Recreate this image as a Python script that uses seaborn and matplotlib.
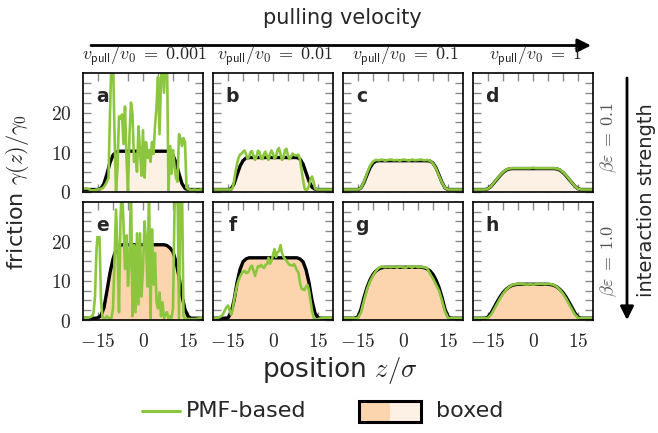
import numpy as np
import matplotlib
matplotlib.use("Agg")
import matplotlib.pyplot as plt
import seaborn as sns
from matplotlib.patches import Rectangle, FancyArrowPatch
from matplotlib.lines import Line2D
from matplotlib.ticker import FixedLocator, FuncFormatter

# ---------------- data ----------------
# sampling grids of position z/sigma
z_coarse = np.arange(-20, 20.5, 1.0)   # 41 points
z_fine = np.arange(-20, 20.25, 0.5)    # 81 points

# boxed friction profiles (black line + fill), on z_coarse
a_box = [0.5, 0.5, 0.5, 0.5, 0.5, 0.5,
         0.8, 2.0, 4.5, 7.3, 9.2, 10.0,
         10.2, 10.2, 10.2, 10.2, 10.2, 10.2, 10.2, 10.2, 10.2, 10.2, 10.2, 10.2, 10.2, 10.2, 10.2, 10.2, 10.2,
         10.0, 9.2, 7.3, 4.5, 2.0, 0.8,
         0.5, 0.5, 0.5, 0.5, 0.5, 0.5]
b_box = [0.5, 0.5, 0.5, 0.5, 0.5, 0.5,
         0.6, 1.9, 4.2, 6.4, 7.8, 8.5,
         8.6, 8.6, 8.6, 8.6, 8.6, 8.6, 8.6, 8.6, 8.6, 8.6, 8.6, 8.6, 8.6, 8.6, 8.6, 8.6, 8.6,
         8.2, 7.0, 4.8, 2.6, 1.1, 0.6,
         0.5, 0.5, 0.5, 0.5, 0.5, 0.5]
c_box = [0.5, 0.5, 0.5, 0.5, 0.5, 0.5,
         0.9, 2.3, 4.2, 6.0, 7.2, 7.7,
         7.8, 7.8, 7.8, 7.8, 7.8, 7.8, 7.8, 7.8, 7.8, 7.8, 7.8, 7.8, 7.8, 7.8, 7.8, 7.8, 7.8,
         7.7, 7.2, 6.0, 4.2, 2.3, 0.9,
         0.5, 0.5, 0.5, 0.5, 0.5, 0.5]
d_box = [0.5, 0.5, 0.5, 0.5, 0.5,
         0.7, 1.3, 2.2, 3.1, 4.0, 4.8, 5.4, 5.7,
         5.8, 5.8, 5.8, 5.8, 5.8, 5.8, 5.8, 5.8, 5.8, 5.8, 5.8, 5.8, 5.8, 5.8, 5.8,
         5.7, 5.4, 4.8, 4.0, 3.1, 2.2, 1.3, 0.7,
         0.5, 0.5, 0.5, 0.5, 0.5]
e_box = [0.5, 0.5, 0.5, 0.5, 0.5,
         0.6, 1.2, 3.2, 7.5, 12.0, 15.5, 17.9, 18.8,
         19.1, 19.1, 19.1, 19.1, 19.1, 19.1, 19.1, 19.1, 19.1, 19.1, 19.1, 19.1, 19.1, 19.1, 19.1,
         18.9, 18.3, 17.3, 14.8, 11.0, 6.2, 2.7, 1.0,
         0.5, 0.5, 0.5, 0.5, 0.5]
f_box = [0.5, 0.5, 0.5, 0.5, 0.5,
         0.6, 1.8, 5.0, 9.5, 12.8, 14.8, 15.5,
         15.8, 15.8, 15.8, 15.8, 15.8, 15.8, 15.8, 15.8, 15.8, 15.8, 15.8, 15.8, 15.8, 15.8, 15.8, 15.8, 15.8,
         15.5, 14.8, 12.8, 9.5, 5.0, 1.8, 0.6,
         0.5, 0.5, 0.5, 0.5, 0.5]
g_box = [0.5, 0.5, 0.5, 0.5, 0.5,
         0.9, 2.8, 5.8, 8.3, 10.2, 11.6, 12.5, 13.0, 13.3,
         13.4, 13.4, 13.4, 13.4, 13.4, 13.4, 13.4, 13.4, 13.4, 13.4, 13.4, 13.4, 13.4,
         13.3, 13.0, 12.5, 11.6, 10.2, 8.3, 5.8, 2.8, 0.9,
         0.5, 0.5, 0.5, 0.5, 0.5]
h_box = [0.5, 0.5, 0.5, 0.5, 0.5,
         0.8, 1.8, 3.2, 4.6, 5.9, 7.0, 7.8, 8.4, 8.8, 9.0,
         9.1, 9.1, 9.1, 9.1, 9.1, 9.1, 9.1, 9.1, 9.1, 9.1, 9.1,
         9.0, 8.8, 8.4, 7.8, 7.0, 5.9, 4.6, 3.2, 1.8, 0.8,
         0.5, 0.5, 0.5, 0.5, 0.5]

# PMF-based friction (green line); a, b, e, f on z_fine, c, d, g, h on z_coarse
a_pmf = [0.6, 0.7, 0.8, 0.7, 0.6, 0.4, 0.3, 0.3, 0.4, 0.5,
         0.5, 0.6, 0.7, 0.8, 1.2, 1.8, 2.5, 3.5, 20.0, 34.0,
         34.0, 15.0, 0.0, 6.0, 19.0, 18.5, 19.5, 12.0, 21.5, 8.5,
         0.0, 14.5, 22.5, 19.5, 7.5, 9.5, 5.0, 16.5, 10.5, 4.0,
         15.5, 3.5, 12.5, 8.5, 10.5, 7.5, 12.5, 9.5, 16.5, 21.5,
         29.0, 14.5, 28.0, 34.0, 25.0, 34.0, 34.0, 0.0, 11.5, 4.5,
         10.5, 6.5, 3.5, 2.5, 14.5, 13.5, 11.5, 13.5, 12.5, 1.0,
         0.6, 0.5, 0.4, 0.4, 0.5, 0.5, 0.4, 0.4, 0.5, 0.5,
         0.5]
b_pmf = [0.5, 0.5, 0.5, 0.5, 0.5, 0.5, 0.5, 0.5, 0.5, 0.5,
         0.5, 0.5, 0.5, 0.8, 2.5, 5.0, 7.0, 8.5, 9.3, 9.6,
         10.0, 10.4, 9.5, 8.3, 8.8, 10.0, 10.2, 9.0, 8.0, 8.8,
         10.3, 10.0, 8.4, 8.2, 9.6, 10.1, 9.0, 8.0, 9.5, 10.4,
         9.6, 8.3, 8.8, 10.5, 11.0, 9.5, 8.0, 8.6, 10.5, 10.8,
         9.0, 8.2, 8.8, 9.6, 9.3, 9.1, 9.2, 9.3, 8.0, 5.5,
         3.0, 0.8, 0.3, 0.5, 1.5, 3.0, 3.8, 2.5, 0.8, 0.5,
         0.5, 0.5, 0.5, 0.5, 0.5, 0.5, 0.5, 0.5, 0.5, 0.5,
         0.5]
c_pmf = [0.5, 0.5, 0.5, 0.5, 0.5, 0.5,
         0.9, 2.5, 4.6, 6.5, 7.6, 8.0, 7.9, 8.1, 7.8, 8.0, 8.1, 7.9, 8.0, 7.8, 8.1,
         8.0, 7.8, 8.1, 7.9, 8.0, 8.1, 7.9, 8.0, 7.8, 7.1, 5.8, 4.0, 2.2, 0.9,
         0.5, 0.5, 0.5, 0.5, 0.5, 0.5]
d_pmf = [0.5, 0.5, 0.5, 0.5, 0.5,
         0.7, 1.3, 2.3, 3.2, 4.1, 4.9, 5.5, 5.8,
         5.9, 5.9, 5.9, 5.9, 5.9, 5.9, 5.9, 6.0, 5.9, 5.9, 5.9, 5.9, 5.9, 5.9, 5.9,
         5.8, 5.5, 4.9, 4.1, 3.2, 2.2, 1.3, 0.7,
         0.5, 0.5, 0.5, 0.5, 0.5]
e_pmf = [0.5, 0.5, 0.6, 0.6, 0.7, 0.8, 1.0, 1.8, 6.0, 18.0,
         22.5, 21.0, 5.0, 0.8, 0.5, 0.6, 1.0, 0.6, 0.4, 0.6,
         3.0, 15.0, 28.0, 18.0, 2.0, 26.0, 34.0, 24.0, 13.0, 21.5,
         8.7, 14.7, 34.0, 1.0, 19.0, 2.0, 22.0, 4.0, 22.0, 6.0,
         13.0, 25.0, 20.0, 8.5, 34.0, 0.5, 23.0, 9.0, 17.0, 4.5,
         3.0, 7.0, 1.0, 4.5, 0.5, 1.5, 2.0, 0.5, 1.0, 0.5,
         3.0, 28.0, 34.0, 34.0, 0.5, 34.0, 34.0, 1.0, 0.4, 0.3,
         0.3, 0.3, 0.3, 0.3, 0.3, 0.3, 0.4, 0.4, 0.5, 0.6,
         0.7]
f_pmf = [0.5, 0.5, 0.5, 0.6, 0.7, 0.9, 1.2, 1.8, 2.6, 3.3,
         3.7, 2.6, 1.4, 2.5, 5.0, 7.0, 8.8, 10.0, 11.0, 11.8,
         12.3, 12.5, 12.0, 12.0, 12.5, 13.5, 13.8, 12.5, 11.2, 12.5,
         13.7, 13.5, 14.0, 13.5, 13.2, 14.0, 14.2, 15.8, 14.3, 15.0,
         16.5, 18.0, 16.0, 17.2, 17.5, 19.0, 17.0, 16.0, 15.5, 15.0,
         14.5, 14.0, 14.0, 13.8, 14.2, 13.5, 12.6, 12.0, 9.5, 8.0,
         7.8, 7.6, 8.5, 8.9, 7.5, 5.0, 2.5, 0.8, 0.1, 0.2,
         0.3, 0.4, 0.5, 0.5, 0.6, 0.6, 0.6, 0.6, 0.6, 0.6,
         0.6]
g_pmf = [0.5, 0.5, 0.5, 0.5, 0.5,
         0.6, 2.0, 5.0, 7.8, 9.8, 11.3, 12.5, 13.3, 13.6, 13.4, 13.5, 13.4, 13.6, 13.3, 13.6,
         13.4, 13.3, 13.7, 13.3, 13.7, 13.4, 13.5, 13.4, 13.2, 11.8, 10.5, 9.0, 7.5, 5.0, 2.2, 0.6,
         0.5, 0.5, 0.5, 0.5, 0.5]
h_pmf = [0.5, 0.5, 0.5, 0.5, 0.5,
         0.6, 1.4, 2.7, 4.1, 5.5, 6.7, 7.7, 8.4, 8.9, 9.1,
         9.2, 9.2, 9.1, 9.0, 9.1, 9.0, 9.1, 9.2, 9.2, 9.1, 9.2,
         9.1, 8.9, 8.4, 7.7, 6.7, 5.5, 4.1, 2.7, 1.4, 0.6,
         0.5, 0.5, 0.5, 0.5, 0.5]

panel_letters = ["a", "b", "c", "d", "e", "f", "g", "h"]
box_data = [a_box, b_box, c_box, d_box, e_box, f_box, g_box, h_box]
pmf_data = [a_pmf, b_pmf, c_pmf, d_pmf, e_pmf, f_pmf, g_pmf, h_pmf]
pmf_grid = [z_fine, z_fine, z_coarse, z_coarse, z_fine, z_fine, z_coarse, z_coarse]

velocity_labels = ["0.001", "0.01", "0.1", "1"]
interaction_labels = ["0.1", "1.0"]
x_ticks = [-15, 0, 15]
x_minor = [-10, -5, 5, 10]
y_ticks = [0, 10, 20]
y_minor = [2.5, 5, 7.5, 12.5, 15, 17.5, 22.5, 25, 27.5]

# ---------------- style ----------------
sns.set_style("white")
plt.rcParams["font.family"] = ["DejaVu Sans"]
plt.rcParams["mathtext.fontset"] = "cm"

GREEN = "#8cc63f"
FILL_LIGHT = "#fdf0e4"
FILL_DARK = "#fcd5ae"
TICK_GREY = "#8a8a8a"

W, H = 658, 433
fig = plt.figure(figsize=(W / 100, H / 100), dpi=100)

col_left = [83, 213, 343, 473]
row_top = [73, 201.7]
ax_w, ax_h = 120, 118.5

fmt = FuncFormatter(lambda v, p: r"$%d$" % v)

for i, letter in enumerate(panel_letters):
    r, c = divmod(i, 4)
    l = col_left[c]
    t = row_top[r]
    ax = fig.add_axes([l / W, 1 - (t + ax_h) / H, ax_w / W, ax_h / H])
    fill = FILL_LIGHT if r == 0 else FILL_DARK
    ax.fill_between(z_coarse, 0, box_data[i], color=fill, lw=0, zorder=1)
    sns.lineplot(x=z_coarse, y=box_data[i], ax=ax, color="black", lw=2.4, zorder=2)
    sns.lineplot(x=pmf_grid[i], y=pmf_data[i], ax=ax, color=GREEN, lw=1.9, zorder=3)
    ax.set_xlim(-20, 20)
    ax.set_ylim(0, 30)
    ax.set_xlabel("")
    ax.set_ylabel("")
    ax.xaxis.set_major_locator(FixedLocator(x_ticks))
    ax.xaxis.set_minor_locator(FixedLocator(x_minor))
    ax.yaxis.set_major_locator(FixedLocator(y_ticks))
    ax.yaxis.set_minor_locator(FixedLocator(y_minor))
    ax.xaxis.set_major_formatter(fmt)
    ax.yaxis.set_major_formatter(fmt)
    ax.tick_params(which="both", direction="in", length=6, width=1.0, color=TICK_GREY,
                   top=True, right=True, bottom=True, left=True,
                   labelsize=14, pad=8.5,
                   labelbottom=(r == 1), labelleft=(c == 0))
    for s in ax.spines.values():
        s.set_color("black")
        s.set_linewidth(1.2)
        s.set_zorder(5)
    ax.text(0.16, 0.80, letter, transform=ax.transAxes, fontsize=13.5, fontweight="bold",
            ha="center", va="center", zorder=6,
            bbox=dict(facecolor="white", edgecolor="none", pad=0.6))

# column titles
col_centers = [144, 275, 405, 535]
for c, v in enumerate(velocity_labels):
    fig.text(col_centers[c] / W, 1 - 56 / H,
             r"$v_{\mathsf{pull}}/v_0\;=\;%s$" % v, ha="center", va="center", fontsize=13)

# pulling velocity arrow
fig.text(342 / W, 1 - 18 / H, "pulling velocity", ha="center", va="center", fontsize=15)
fig.add_artist(FancyArrowPatch(
    (91 / W, 1 - 45.5 / H), (591 / W, 1 - 45.5 / H), transform=fig.transFigure,
    arrowstyle="-|>", mutation_scale=20, lw=2, color="black", shrinkA=0, shrinkB=0))

# interaction strength arrow
fig.add_artist(FancyArrowPatch(
    (627 / W, 1 - 78 / H), (627 / W, 1 - 320 / H), transform=fig.transFigure,
    arrowstyle="-|>", mutation_scale=20, lw=2, color="black", shrinkA=0, shrinkB=0))
fig.text(646 / W, 1 - 200 / H, "interaction strength", rotation=90,
         ha="center", va="center", fontsize=14)
row_centers = [137, 261]
for r, lab in enumerate(interaction_labels):
    fig.text(609 / W, 1 - row_centers[r] / H, r"$\beta\varepsilon\;=\;%s$" % lab, rotation=90,
             ha="center", va="center", fontsize=13, color="#555555")

# axis labels
fig.text(18 / W, 1 - 192 / H, r"friction $\gamma(z)/\gamma_0$", rotation=90,
         ha="center", va="center", fontsize=16)
fig.text(340 / W, 1 - 371 / H, r"position $z/\sigma$", ha="center", va="center", fontsize=19)

# legend
ly = 1 - 411 / H
fig.add_artist(Line2D([142 / W, 180 / W], [ly, ly], transform=fig.transFigure,
                      color=GREEN, lw=2.2))
fig.text(186 / W, ly, "PMF-based", ha="left", va="center", fontsize=16)
bx0, bx1, by0, by1 = 359, 421, 401, 422
fig.add_artist(Rectangle((bx0 / W, 1 - by1 / H), (bx1 - bx0) / 2 / W, (by1 - by0) / H,
                         transform=fig.transFigure, facecolor=FILL_DARK, edgecolor="none"))
fig.add_artist(Rectangle(((bx0 + bx1) / 2 / W, 1 - by1 / H), (bx1 - bx0) / 2 / W, (by1 - by0) / H,
                         transform=fig.transFigure, facecolor=FILL_LIGHT, edgecolor="none"))
fig.add_artist(Rectangle((bx0 / W, 1 - by1 / H), (bx1 - bx0) / W, (by1 - by0) / H,
                         transform=fig.transFigure, facecolor="none", edgecolor="black", lw=2.2))
fig.text(436 / W, ly, "boxed", ha="left", va="center", fontsize=16)

fig.savefig("out.png", dpi=100)
